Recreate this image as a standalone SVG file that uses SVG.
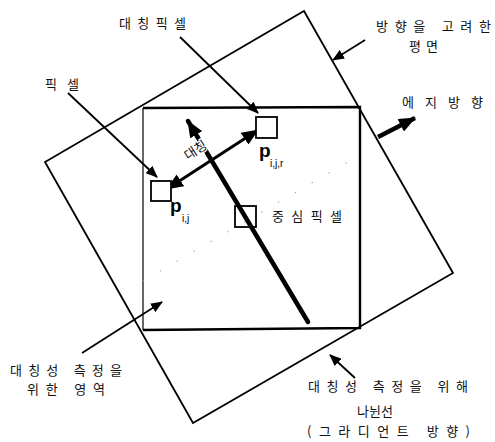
<svg xmlns="http://www.w3.org/2000/svg" width="495" height="442" viewBox="0 0 495 442">
<style>
.lbl{font-family:"Noto Sans CJK KR","Noto Sans",sans-serif;font-size:13px;fill:#111}
.p{font-family:"Liberation Sans",Arial,sans-serif;font-weight:bold;font-size:19px;fill:#000}
.sub{font-family:"Liberation Sans",Arial,sans-serif;font-size:10px;fill:#000}
.thin{stroke:#000;stroke-width:1.8;fill:none}
.box{fill:#fff;stroke:#000;stroke-width:1.8}
</style>
<defs>
<marker id="ah" markerUnits="userSpaceOnUse" markerWidth="12" markerHeight="10" refX="11" refY="5" orient="auto">
<path d="M0,0 L12,5 L0,10 Z" fill="#000"/>
</marker>
<marker id="big" markerUnits="userSpaceOnUse" markerWidth="17" markerHeight="14" refX="16" refY="7" orient="auto-start-reverse">
<path d="M0,0 L17,7 L0,14 Z" fill="#000"/>
</marker>
</defs>
<rect width="495" height="442" fill="#fff"/>
<g id="plane">
<polygon points="304,11 453,273 193,423 45,162" fill="none" stroke="#000" stroke-width="1.8"/>
</g>
<g id="region">
<path d="M143,108 L360,107 L360,328 L143,330" fill="none" stroke="#000" stroke-width="2.4"/>
<line x1="143" y1="108" x2="143" y2="330" stroke="#000" stroke-width="1.2"/>
</g>
<g id="connectors">
<line x1="143" y1="281" x2="360" y2="155" stroke="#999" stroke-width="1" stroke-dasharray="1.5 18"/>
<line x1="308" y1="322" x2="188" y2="121" stroke="#000" stroke-width="4.5" stroke-linecap="round" marker-end="url(#big)"/>
<line x1="167" y1="189" x2="258" y2="130" stroke="#000" stroke-width="3" marker-start="url(#big)" marker-end="url(#big)"/>
<line x1="378" y1="137" x2="415" y2="118" stroke="#000" stroke-width="4.5" marker-end="url(#big)"/>
<line class="thin" x1="180" y1="37" x2="258" y2="113" marker-end="url(#ah)"/>
<line class="thin" x1="68" y1="93" x2="157" y2="177" marker-end="url(#ah)"/>
<line class="thin" x1="365" y1="40" x2="333" y2="60" marker-end="url(#ah)"/>
<line class="thin" x1="82" y1="353" x2="162" y2="302" marker-end="url(#ah)"/>
<line class="thin" x1="355" y1="378" x2="330" y2="355" marker-end="url(#ah)"/>
</g>
<g id="pixel">
<rect class="box" x="151" y="181" width="20" height="20"/>
<text class="p" x="170" y="212">p</text>
<text class="sub" x="182" y="222">i,j</text>
</g>
<g id="sym-pixel">
<rect class="box" x="256" y="117" width="21" height="21"/>
<text class="p" x="259" y="157">p</text>
<text class="sub" x="270" y="167">i,j,r</text>
</g>
<g id="center-pixel">
<rect x="235" y="206" width="21" height="21" fill="none" stroke="#000" stroke-width="1.8"/>
</g>
<g id="labels">
<text class="lbl" x="119" y="28" textLength="67" lengthAdjust="spacing">대칭픽셀</text>
<text class="lbl" x="45" y="89" textLength="34" lengthAdjust="spacing">픽셀</text>
<text class="lbl" x="376" y="31" textLength="115" lengthAdjust="spacing">방향을 고려한</text>
<text class="lbl" x="409" y="51" textLength="29" lengthAdjust="spacing">평면</text>
<text class="lbl" x="402" y="107" textLength="81" lengthAdjust="spacing">에지방향</text>
<text class="lbl" x="272" y="221" textLength="70" lengthAdjust="spacing">중심픽셀</text>
<text class="lbl" x="10" y="375" textLength="112" lengthAdjust="spacing">대칭성 측정을</text>
<text class="lbl" x="27" y="394" textLength="78" lengthAdjust="spacing">위한 영역</text>
<text class="lbl" x="308" y="391" textLength="160" lengthAdjust="spacing">대칭성 측정을 위해</text>
<text class="lbl" x="357" y="416" textLength="36" lengthAdjust="spacing">나뉜선</text>
<text class="lbl" x="307" y="436" textLength="163" lengthAdjust="spacing">(그라디언트 방향)</text>
<text class="lbl" x="198" y="154" text-anchor="middle" font-size="14" stroke="#fff" stroke-width="2.5" paint-order="stroke" transform="rotate(-33 198 154)">대칭</text>
</g>
</svg>
